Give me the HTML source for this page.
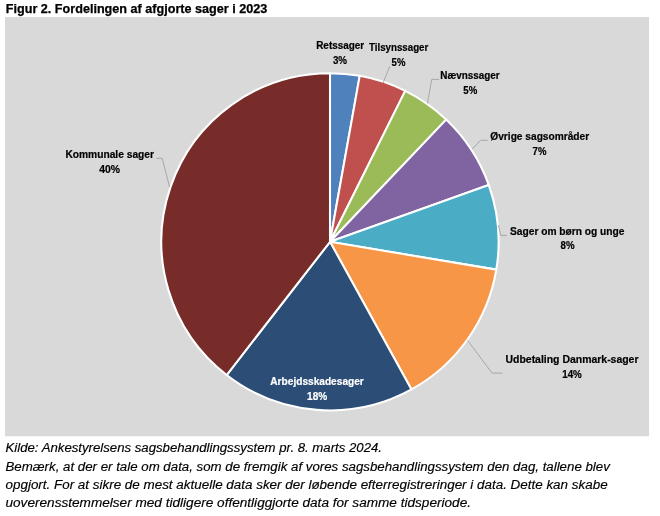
<!DOCTYPE html>
<html><head><meta charset="utf-8"><style>
html,body{margin:0;padding:0;background:#fff;}
body{width:660px;height:516px;overflow:hidden;}
svg{display:block;will-change:transform;font-family:"Liberation Sans",sans-serif;}
</style></head><body>
<svg width="660" height="516" viewBox="0 0 660 516">
<rect x="0" y="0" width="660" height="516" fill="#fff"/>
<text stroke="#000" stroke-width="0.25" x="5.8" y="12.6" textLength="261.5" lengthAdjust="spacingAndGlyphs" font-size="12.1" font-weight="bold" font-style="normal" fill="#000">Figur 2. Fordelingen af afgjorte sager i 2023</text>
<rect x="5" y="17" width="644" height="419.3" fill="#D9D9D9"/>
<g stroke="#fff" stroke-width="2.05" stroke-linejoin="round">
<path d="M330.0,241.8 L330.00,73.20 A168.6,168.6 0 0 1 359.71,75.84 Z" fill="#4F81BD"/>
<path d="M330.0,241.8 L359.71,75.84 A168.6,168.6 0 0 1 405.23,90.91 Z" fill="#C0504D"/>
<path d="M330.0,241.8 L405.23,90.91 A168.6,168.6 0 0 1 446.16,119.60 Z" fill="#9BBB59"/>
<path d="M330.0,241.8 L446.16,119.60 A168.6,168.6 0 0 1 488.73,184.97 Z" fill="#8064A2"/>
<path d="M330.0,241.8 L488.73,184.97 A168.6,168.6 0 0 1 496.29,269.63 Z" fill="#4BACC6"/>
<path d="M330.0,241.8 L496.29,269.63 A168.6,168.6 0 0 1 411.48,389.40 Z" fill="#F79646"/>
<path d="M330.0,241.8 L411.48,389.40 A168.6,168.6 0 0 1 226.66,375.02 Z" fill="#2C4D75"/>
<path d="M330.0,241.8 L226.66,375.02 A168.6,168.6 0 0 1 330.00,73.20 Z" fill="#772C2A"/>
</g>
<path d="M389.8,66.2 L384,80.7 L383.3,83" fill="none" stroke="#a2a2a2" stroke-width="0.9"/>
<path d="M439.2,79.4 L431.7,79.4 L427.5,103.5" fill="none" stroke="#a2a2a2" stroke-width="0.9"/>
<path d="M487.6,140.3 L480.5,140.3 L472,149.3" fill="none" stroke="#a2a2a2" stroke-width="0.9"/>
<path d="M506.9,235.4 L500.8,235.4 L498.4,225" fill="none" stroke="#a2a2a2" stroke-width="0.9"/>
<path d="M502.5,373.1 L492.1,373.1 L467.6,340.5" fill="none" stroke="#a2a2a2" stroke-width="0.9"/>
<path d="M156.4,158.3 L162.2,158.3 L169.6,187" fill="none" stroke="#a2a2a2" stroke-width="0.9"/>
<text stroke="#000" stroke-width="0.2" x="316.2" y="48.8" textLength="48.0" lengthAdjust="spacingAndGlyphs" font-size="10.5" font-weight="bold" font-style="normal" fill="#000">Retssager</text>
<text stroke="#000" stroke-width="0.2" x="332.9" y="63.6" textLength="14.2" lengthAdjust="spacingAndGlyphs" font-size="10.5" font-weight="bold" font-style="normal" fill="#000">3%</text>
<text stroke="#000" stroke-width="0.2" x="369" y="50.9" textLength="59.3" lengthAdjust="spacingAndGlyphs" font-size="10.5" font-weight="bold" font-style="normal" fill="#000">Tilsynssager</text>
<text stroke="#000" stroke-width="0.2" x="391.6" y="66.2" textLength="13.8" lengthAdjust="spacingAndGlyphs" font-size="10.5" font-weight="bold" font-style="normal" fill="#000">5%</text>
<text stroke="#000" stroke-width="0.2" x="440.3" y="78.9" textLength="59.4" lengthAdjust="spacingAndGlyphs" font-size="10.5" font-weight="bold" font-style="normal" fill="#000">Nævnssager</text>
<text stroke="#000" stroke-width="0.2" x="463.3" y="94" textLength="13.9" lengthAdjust="spacingAndGlyphs" font-size="10.5" font-weight="bold" font-style="normal" fill="#000">5%</text>
<text stroke="#000" stroke-width="0.2" x="490.3" y="139.6" textLength="98.9" lengthAdjust="spacingAndGlyphs" font-size="10.5" font-weight="bold" font-style="normal" fill="#000">Øvrige sagsområder</text>
<text stroke="#000" stroke-width="0.2" x="532.6" y="154.5" textLength="13.8" lengthAdjust="spacingAndGlyphs" font-size="10.5" font-weight="bold" font-style="normal" fill="#000">7%</text>
<text stroke="#000" stroke-width="0.2" x="510" y="235" textLength="114.5" lengthAdjust="spacingAndGlyphs" font-size="10.5" font-weight="bold" font-style="normal" fill="#000">Sager om børn og unge</text>
<text stroke="#000" stroke-width="0.2" x="560.5" y="249" textLength="14.0" lengthAdjust="spacingAndGlyphs" font-size="10.5" font-weight="bold" font-style="normal" fill="#000">8%</text>
<text stroke="#000" stroke-width="0.2" x="505.5" y="362.7" textLength="133.0" lengthAdjust="spacingAndGlyphs" font-size="10.5" font-weight="bold" font-style="normal" fill="#000">Udbetaling Danmark-sager</text>
<text stroke="#000" stroke-width="0.2" x="562.2" y="377.7" textLength="19.6" lengthAdjust="spacingAndGlyphs" font-size="10.5" font-weight="bold" font-style="normal" fill="#000">14%</text>
<text stroke="#000" stroke-width="0.2" x="65.4" y="158.1" textLength="88.6" lengthAdjust="spacingAndGlyphs" font-size="10.5" font-weight="bold" font-style="normal" fill="#000">Kommunale sager</text>
<text stroke="#000" stroke-width="0.2" x="99.2" y="172.5" textLength="20.8" lengthAdjust="spacingAndGlyphs" font-size="10.5" font-weight="bold" font-style="normal" fill="#000">40%</text>
<text stroke="#fff" stroke-width="0.2" x="270.3" y="384.7" textLength="93.5" lengthAdjust="spacingAndGlyphs" font-size="10.5" font-weight="bold" font-style="normal" fill="#fff">Arbejdsskadesager</text>
<text stroke="#fff" stroke-width="0.2" x="307.1" y="399.9" textLength="20.1" lengthAdjust="spacingAndGlyphs" font-size="10.5" font-weight="bold" font-style="normal" fill="#fff">18%</text>
<text stroke="#000" stroke-width="0.15" x="5.5" y="451.6" textLength="376.5" lengthAdjust="spacingAndGlyphs" font-size="12.3" font-weight="normal" font-style="italic" fill="#000">Kilde: Ankestyrelsens sagsbehandlingssystem pr. 8. marts 2024.</text>
<text stroke="#000" stroke-width="0.15" x="5.5" y="470.6" textLength="604.3" lengthAdjust="spacingAndGlyphs" font-size="12.3" font-weight="normal" font-style="italic" fill="#000">Bemærk, at der er tale om data, som de fremgik af vores sagsbehandlingssystem den dag, tallene blev</text>
<text stroke="#000" stroke-width="0.15" x="5.5" y="488.8" textLength="602.1" lengthAdjust="spacingAndGlyphs" font-size="12.3" font-weight="normal" font-style="italic" fill="#000">opgjort. For at sikre de mest aktuelle data sker der løbende efterregistreringer i data. Dette kan skabe</text>
<text stroke="#000" stroke-width="0.15" x="5.5" y="507.2" textLength="465.5" lengthAdjust="spacingAndGlyphs" font-size="12.3" font-weight="normal" font-style="italic" fill="#000">uoverensstemmelser med tidligere offentliggjorte data for samme tidsperiode.</text>
</svg>
</body></html>
